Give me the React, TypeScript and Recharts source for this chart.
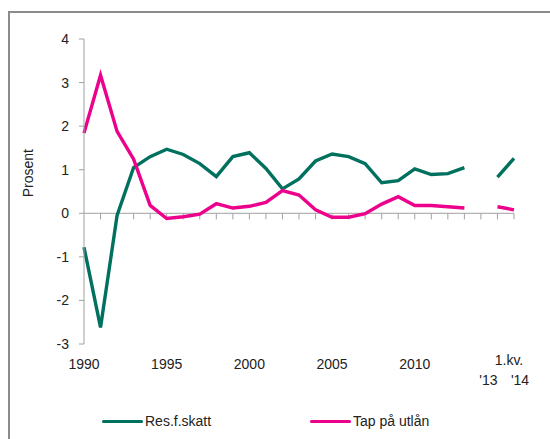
import { LineChart, Line, XAxis, YAxis, Legend, ReferenceLine } from 'recharts'

// årstall 1990-2013, et tomt mellomrom, så 1. kvartal '13 og '14
const categories = [
  '1990', '1991', '1992', '1993', '1994', '1995', '1996', '1997', '1998', '1999',
  '2000', '2001', '2002', '2003', '2004', '2005', '2006', '2007', '2008', '2009',
  '2010', '2011', '2012', '2013', 'gap', "'13", "'14",
]

const resFSkatt = [
  -0.78, -2.62, -0.05, 1.05, 1.3, 1.47, 1.35, 1.14, 0.84, 1.3,
  1.39, 1.03, 0.56, 0.79, 1.2, 1.36, 1.3, 1.14, 0.7, 0.75,
  1.02, 0.89, 0.91, 1.05, null, 0.83, 1.26,
]

const tapPaUtlan = [
  1.84, 3.17, 1.88, 1.24, 0.18, -0.12, -0.08, -0.02, 0.22, 0.12,
  0.16, 0.25, 0.52, 0.42, 0.08, -0.09, -0.09, -0.01, 0.21, 0.38,
  0.18, 0.18, 0.15, 0.12, null, 0.15, 0.08,
]

const yTicks = [-3, -2, -1, 0, 1, 2, 3, 4]
const yearLabels = ['1990', '1995', '2000', '2005', '2010']

const data = categories.map((kat, i) => ({
  kat,
  res: resFSkatt[i],
  tap: tapPaUtlan[i],
}))

const FONT = '"Liberation Sans", Arial, sans-serif'
const AXIS = '#a0a0a0'
const GREEN = '#00705f'
const PINK = '#ec008c'

function XTick({ x, y, payload }: { x: number; y: number; payload: { value: string } }) {
  const v = payload.value
  const style = { fontSize: 14, fill: '#222', fontFamily: FONT }
  if (yearLabels.includes(v)) {
    return (
      <text x={x} y={y} dy={17} textAnchor="middle" {...style}>{v}</text>
    )
  }
  if (v === "'13") {
    return <text x={x} y={y} dy={33} dx={-9} textAnchor="middle" {...style}>{v}</text>
  }
  if (v === "'14") {
    return (
      <g>
        <text x={x} y={y} dy={13} dx={-5} textAnchor="middle" {...style}>1.kv.</text>
        <text x={x} y={y} dy={33} dx={6} textAnchor="middle" {...style}>{v}</text>
      </g>
    )
  }
  return null
}

function YLabel({ viewBox }: { viewBox?: { x: number; y: number; width: number; height: number } }) {
  if (!viewBox) return null
  const cx = viewBox.x - 16
  const cy = viewBox.y + viewBox.height * 0.44
  return (
    <text
      x={cx}
      y={cy}
      transform={`rotate(-90, ${cx}, ${cy})`}
      textAnchor="middle"
      dominantBaseline="central"
      style={{ fontSize: 14, fill: '#222', fontFamily: FONT }}
    >
      Prosent
    </text>
  )
}

function LegendContent() {
  const items = [
    { name: 'Res.f.skatt', color: GREEN },
    { name: 'Tap på utlån', color: PINK },
  ]
  return (
    <div style={{ display: 'flex', fontFamily: FONT, fontSize: 14, color: '#222' }}>
      {items.map((it) => (
        <div key={it.name} style={{ display: 'flex', alignItems: 'center', width: 208 }}>
          <span style={{ display: 'inline-block', width: 41, height: 3, background: it.color, borderRadius: 2, marginRight: 2 }} />
          <span>{it.name}</span>
        </div>
      ))}
    </div>
  )
}

export default function App() {
  return (
    <div style={{ position: 'fixed', left: 0, top: 0, width: 550, height: 439, overflow: 'hidden', background: '#fff' }}>
      <div style={{ position: 'absolute', left: 8, top: 11, width: 620, height: 520, border: '2px solid #8c8c8c' }} />
      <div style={{ position: 'absolute', left: 0, top: 0 }}>
        <LineChart width={550} height={439} data={data} margin={{ top: 39, right: 36, left: 44, bottom: 29 }}>
          <XAxis
            dataKey="kat"
            scale="point"
            padding={{ left: 0, right: 0 }}
            interval={0}
            axisLine={false}
            tickLine={false}
            tickSize={6}
            tick={XTick}
            height={50}
          />
          <YAxis
            domain={[-3, 4]}
            ticks={yTicks}
            width={40}
            tickSize={5}
            tickMargin={10}
            interval={0}
            axisLine={{ stroke: AXIS }}
            tickLine={{ stroke: AXIS }}
            tick={{ fontSize: 14, fill: '#222', fontFamily: FONT }}
            label={<YLabel />}
          />
          <ReferenceLine y={0} stroke={AXIS} />
          {categories.map((c) => (
            <ReferenceLine
              key={c}
              segment={[{ x: c, y: 0 }, { x: c, y: -0.14 }]}
              stroke={AXIS}
            />
          ))}
          <Line type="linear" dataKey="res" name="Res.f.skatt" stroke={GREEN} strokeWidth={3.4} dot={false} isAnimationActive={false} />
          <Line type="linear" dataKey="tap" name="Tap på utlån" stroke={PINK} strokeWidth={3.4} dot={false} isAnimationActive={false} />
          <Legend
            verticalAlign="bottom"
            content={<LegendContent />}
            wrapperStyle={{ left: 102, width: 440, bottom: 10 }}
          />
        </LineChart>
      </div>
    </div>
  )
}
